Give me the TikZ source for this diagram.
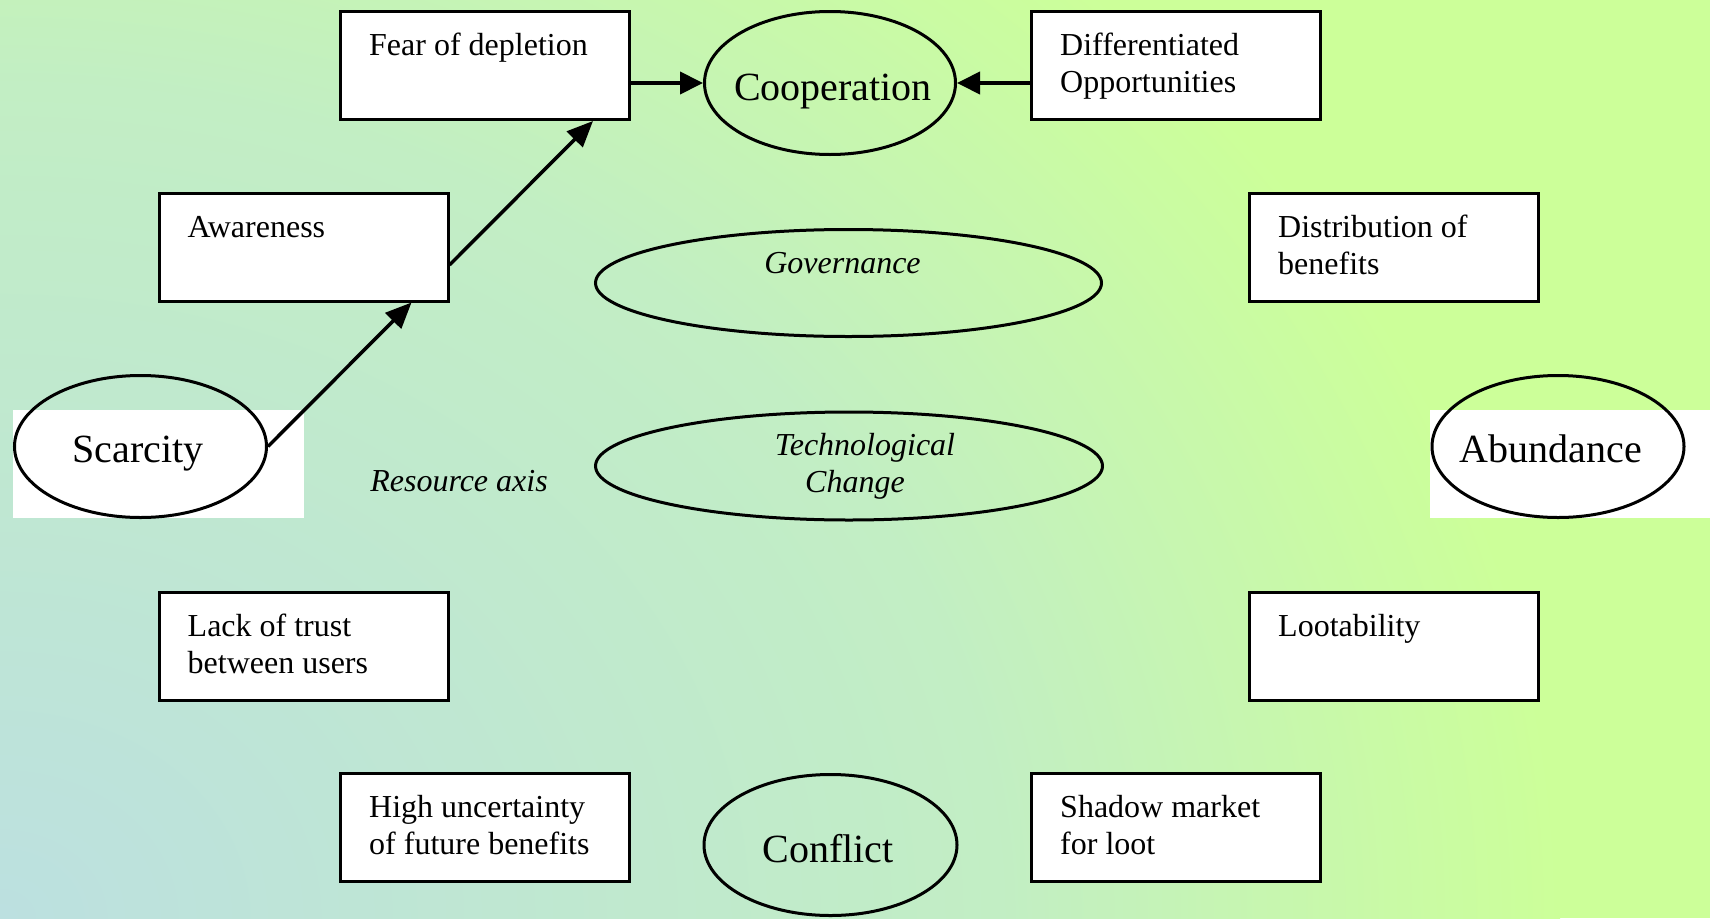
\documentclass[tikz,border=0pt]{standalone}
\usepackage{fontspec}
\setmainfont{Liberation Serif}
\usetikzlibrary{shapes.geometric,arrows.meta}
\definecolor{bgin}{RGB}{188,224,224}
\definecolor{bgmid}{RGB}{194,238,196}
\definecolor{bgout}{RGB}{204,255,153}
\pgfdeclareradialshading{bgshade}{\pgfpoint{0bp}{0bp}}{color(0bp)=(bgin); color(16bp)=(bgmid); color(25bp)=(bgout); color(50bp)=(bgout)}
\begin{document}
\begin{tikzpicture}[x=1pt,y=-1pt,
  box/.style={draw=black, fill=white, line width=3pt, rectangle, minimum width=289pt, minimum height=108pt, inner sep=0pt},
  oval/.style={draw=black, line width=3pt, ellipse, inner sep=0pt},
  boxtext/.style={anchor=north west, inner sep=0pt, align=left, font=\fontsize{32}{37}\selectfont},
  bigtext/.style={anchor=base, inner sep=0pt, font=\fontsize{40}{46}\selectfont},
  ittext/.style={inner sep=0pt, font=\fontsize{32}{37}\selectfont\itshape},
  whitebg/.style={fill=white, draw=none, rectangle, inner sep=0pt},
  arr/.style={-{Triangle[length=23pt,width=22pt]}, line width=4pt},
  darr/.style={-{Triangle[length=26pt,width=22pt]}, line width=3.5pt},
]
\useasboundingbox (0,0) rectangle (1710,918);
\begin{scope}
  \clip (0,0) rectangle (1710,918);
  \fill[bgout] (0,0) rectangle (1710,918);
  \shade[shading=bgshade] (0,918) ellipse [x radius=1560pt, y radius=1300pt];
\end{scope}

% white backgrounds behind Scarcity / Abundance
\node[whitebg, minimum width=291pt, minimum height=108pt] (scbg) at (158.5,464) {};
\node[whitebg, minimum width=280pt, minimum height=108pt] (abbg) at (1570,464) {};

% boxes
\node[box] (fear) at (485,65.5) {};
\node[box] (diff) at (1176,65.5) {};
\node[box] (aw) at (303.5,247) {};
\node[box] (dist) at (1394,247) {};
\node[box] (lack) at (303.5,646) {};
\node[box] (loot) at (1394,646) {};
\node[box] (high) at (485,827.5) {};
\node[box] (shadow) at (1176,827.5) {};

\node[boxtext] (fear-t) at ([xshift=30pt,yshift=-22.5pt]fear.north west) {\rule{0pt}{23pt}Fear of depletion};
\node[boxtext] (diff-t) at ([xshift=30pt,yshift=-22.5pt]diff.north west) {\rule{0pt}{23pt}Differentiated\\Opportunities};
\node[boxtext] (aw-t) at ([xshift=30pt,yshift=-22.5pt]aw.north west) {\rule{0pt}{23pt}Awareness};
\node[boxtext] (dist-t) at ([xshift=30pt,yshift=-22.5pt]dist.north west) {\rule{0pt}{23pt}Distribution of\\benefits};
\node[boxtext] (lack-t) at ([xshift=30pt,yshift=-22.5pt]lack.north west) {\rule{0pt}{23pt}Lack of trust\\between users};
\node[boxtext] (loot-t) at ([xshift=30pt,yshift=-22.5pt]loot.north west) {\rule{0pt}{23pt}Lootability};
\node[boxtext] (high-t) at ([xshift=30pt,yshift=-22.5pt]high.north west) {\rule{0pt}{23pt}High uncertainty\\of future benefits};
\node[boxtext] (shadow-t) at ([xshift=30pt,yshift=-22.5pt]shadow.north west) {\rule{0pt}{23pt}Shadow market\\for loot};

% ellipses
\node[oval, minimum width=251pt, minimum height=143pt] (coop) at (830,83) {};
\node[oval, minimum width=253pt, minimum height=141pt] (conf) at (830.5,845) {};
\node[oval, minimum width=506pt, minimum height=107pt] (gov) at (848.5,283) {};
\node[oval, minimum width=507pt, minimum height=108pt] (tech) at (849,466) {};
\node[oval, minimum width=252pt, minimum height=142pt] (sc) at (140.5,446.5) {};
\node[oval, minimum width=252pt, minimum height=142pt] (ab) at (1558,446.5) {};

\node[bigtext] (coop-t) at ([xshift=3pt,yshift=-17pt]coop.center) {Cooperation};
\node[bigtext] (conf-t) at ([xshift=-2.5pt,yshift=-17pt]conf.center) {Conflict};
\node[bigtext] (sc-t) at ([xshift=-2.5pt,yshift=-15.5pt]sc.center) {Scarcity};
\node[bigtext] (ab-t) at ([xshift=-7pt,yshift=-15.5pt]ab.center) {Abundance};
\node[ittext, anchor=base] (gov-t) at ([xshift=-6pt,yshift=10pt]gov.center) {Governance};
\node[ittext, anchor=north, align=center] (tech-t) at ([xshift=16pt,yshift=34pt]tech.center) {\rule{0pt}{23pt}Technological\\Change\rule{20pt}{0pt}};
\node[ittext, anchor=base] (axis) at (459,491) {Resource axis};

% connectors
\draw[darr] (sc.east) -- ([xshift=108pt]aw.south);
\draw[darr] ([yshift=-18pt]aw.east) -- ([xshift=108pt]fear.south);
\draw[arr] (fear.east |- coop.west) -- (coop.west);
\draw[arr] (diff.west |- coop.east) -- (coop.east);
\end{tikzpicture}
\end{document}
